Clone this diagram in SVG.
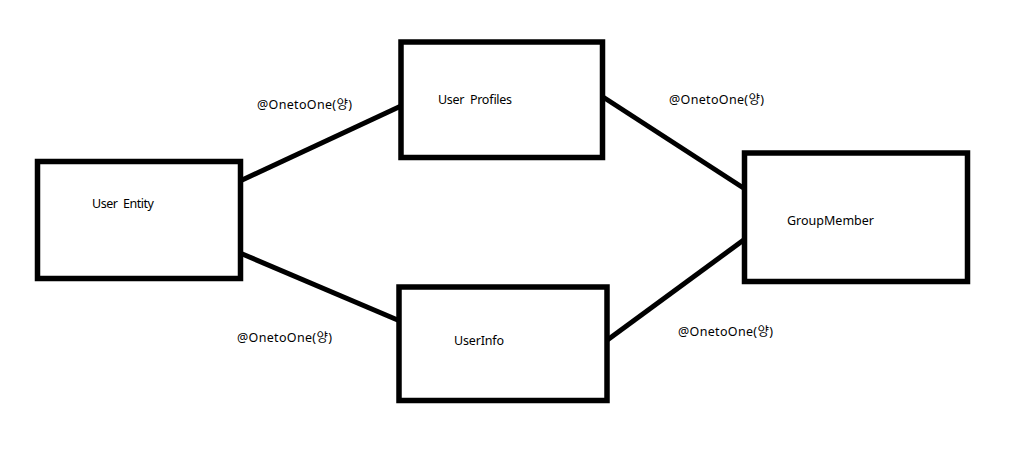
<svg xmlns="http://www.w3.org/2000/svg" width="1025" height="462" viewBox="0 0 1025 462">
<style>
.box{fill:#fff;stroke:#000;stroke-width:5.5}
.con{stroke:#000;stroke-width:5;fill:none}
text{font-family:"Noto Sans","Noto Sans CJK KR",sans-serif;font-size:12.5px;fill:#000;white-space:pre}
</style>
<rect width="1025" height="462" fill="#fff"/>
<g id="connectors">
<line class="con" x1="240" y1="181" x2="401" y2="106"/>
<line class="con" x1="240" y1="253" x2="400" y2="321"/>
<line class="con" x1="603" y1="97" x2="745" y2="189"/>
<line class="con" x1="606" y1="341" x2="745" y2="239"/>
</g>
<g id="user-entity">
<rect class="box" x="37.5" y="161.5" width="203" height="117"/>
<text x="92" y="208" xml:space="preserve" textLength="62">User  Entity</text>
</g>
<g id="user-profiles">
<rect class="box" x="401" y="42" width="201.5" height="115.5"/>
<text x="438" y="104" xml:space="preserve" textLength="74">User  Profiles</text>
</g>
<g id="group-member">
<rect class="box" x="744.5" y="153" width="223" height="128.5"/>
<text x="787" y="225" textLength="87">GroupMember</text>
</g>
<g id="user-info">
<rect class="box" x="399" y="287" width="208" height="113.5"/>
<text x="454" y="345" textLength="50">UserInfo</text>
</g>
<g id="labels">
<text x="257" y="109" textLength="95">@OnetoOne(양)</text>
<text x="669" y="104" textLength="95">@OnetoOne(양)</text>
<text x="237" y="342" textLength="95">@OnetoOne(양)</text>
<text x="678" y="336" textLength="95">@OnetoOne(양)</text>
</g>
</svg>
